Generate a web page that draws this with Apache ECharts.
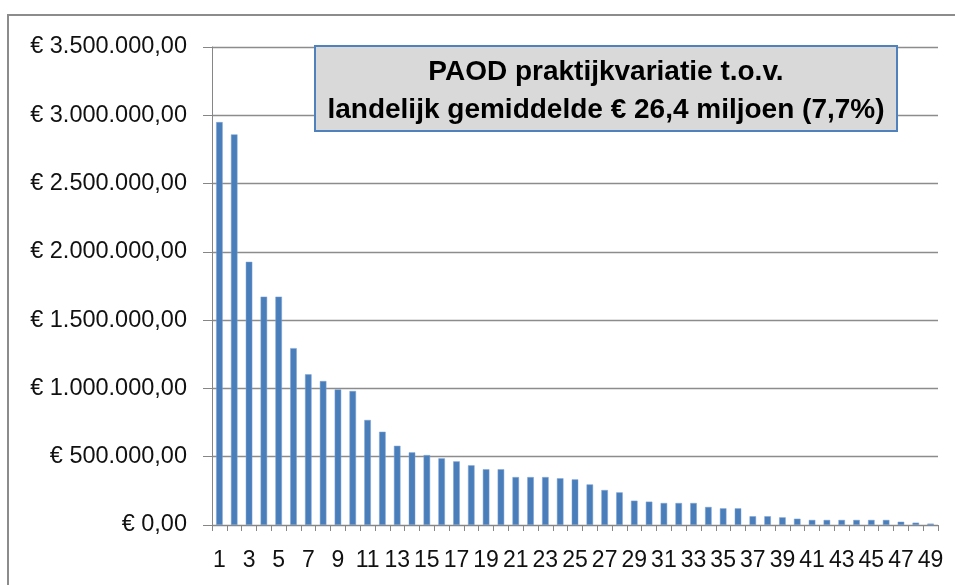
<!DOCTYPE html>
<html>
<head>
<meta charset="utf-8">
<script src="https://cdn.jsdelivr.net/npm/echarts@6/dist/echarts.min.js"></script>
<style>
html,body{margin:0;padding:0;background:#fff;}
#c{width:955px;height:585px;}
</style>
</head>
<body>
<div id="c"></div>
<script>
const categories = Array.from({length: 49}, (_, i) => String(i + 1));
const values = [
  2950000, 2860000, 1927000, 1672000, 1672000, 1295000, 1103000, 1054000, 993000, 981000,
  769000, 683000, 580000, 532000, 512000, 488000, 466000, 437000, 408000, 408000,
  351000, 351000, 351000, 342000, 334000, 297000, 256000, 239000, 178000, 171000,
  161000, 161000, 161000, 132000, 122000, 122000, 64000, 64000, 56000, 46000,
  37000, 37000, 37000, 37000, 37000, 37000, 24000, 17000, 10000
];
const titleLines = ['PAOD praktijkvariatie t.o.v.', 'landelijk gemiddelde € 26,4 miljoen (7,7%)'];

function euro(v) {
  const s = Math.round(v).toString().replace(/\B(?=(\d{3})+(?!\d))/g, '.');
  return '€ ' + s + ',00';
}

const chart = echarts.init(document.getElementById('c'));
const FONT = 'Liberation Sans';
chart.setOption({
  animation: false,
  backgroundColor: '#ffffff',
  grid: {left: 212, right: 17, top: 47, bottom: 60, containLabel: false},
  xAxis: {
    type: 'category',
    data: categories,
    boundaryGap: true,
    axisLine: {lineStyle: {color: '#868686', width: 1}},
    axisTick: {show: true, alignWithLabel: false, interval: 0, length: 6, lineStyle: {color: '#868686'}},
    axisLabel: {interval: 1, color: '#111', fontFamily: FONT, fontSize: 23, margin: 24}
  },
  yAxis: {
    type: 'value',
    min: 0, max: 3500000, interval: 500000,
    axisLine: {show: true, lineStyle: {color: '#868686'}},
    axisTick: {show: true, length: 9, lineStyle: {color: '#868686'}},
    splitLine: {lineStyle: {color: '#8c8c8c', width: 1.3}},
    axisLabel: {formatter: euro, color: '#111', fontFamily: FONT, fontSize: 23.5, margin: 25}
  },
  series: [{
    type: 'bar',
    data: values,
    barWidth: '44%',
    itemStyle: {color: '#4a7ebb', borderColor: '#7da3d4', borderWidth: 0.5}
  }],
  graphic: [
    {type: 'rect', z: -1, shape: {x: 8, y: 15, width: 960, height: 600},
     style: {fill: 'none', stroke: '#8c8c8c', lineWidth: 2}},
    {type: 'rect', z: 10, shape: {x: 315, y: 46, width: 582, height: 85},
     style: {fill: '#d9d9d9', stroke: '#4f81bd', lineWidth: 2}},
    {type: 'text', z: 11,
     style: {text: titleLines[0], x: 606, y: 72, textAlign: 'center', textVerticalAlign: 'middle',
             font: 'bold 28px "Liberation Sans"', fill: '#000'}},
    {type: 'text', z: 11,
     style: {text: titleLines[1], x: 606, y: 110, textAlign: 'center', textVerticalAlign: 'middle',
             font: 'bold 28px "Liberation Sans"', fill: '#000'}}
  ]
});
</script>
</body>
</html>
